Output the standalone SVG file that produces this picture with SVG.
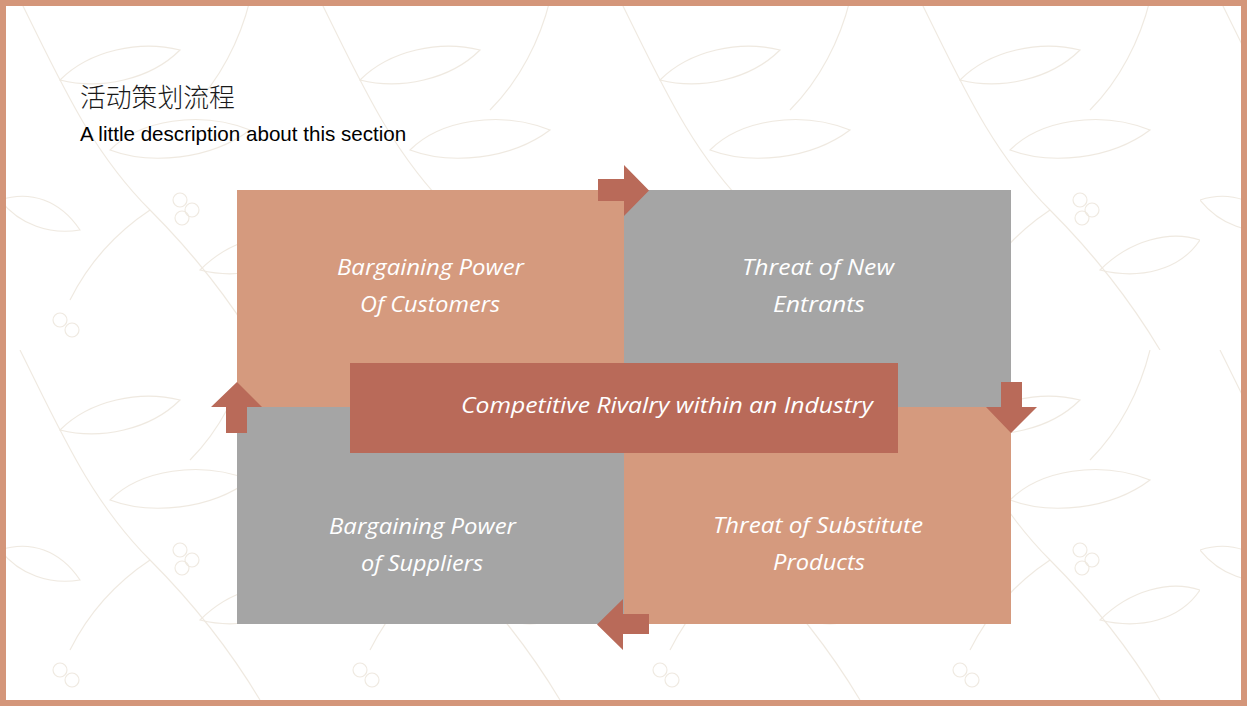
<svg xmlns="http://www.w3.org/2000/svg" width="1247" height="706" viewBox="0 0 1247 706">
<defs>
<style>
.lbl{font-family:"Open Sans","Noto Sans",sans-serif;font-style:italic;font-size:22px;fill:#ffffff;text-anchor:middle}
.arr{fill:#b96a59}
.leaf{fill:none;stroke:#efe9e0;stroke-width:1.1}
</style>
<pattern id="bg" x="0" y="0" width="300" height="350" patternUnits="userSpaceOnUse">
<rect width="300" height="350" fill="#ffffff"/>
<path class="leaf" d="M20 0 C60 80 90 150 150 210 C190 250 230 300 260 350"/>
<path class="leaf" d="M150 210 C120 230 90 260 70 300"/>
<path class="leaf" d="M60 80 C90 50 140 40 180 50 C150 80 100 90 60 80 Z"/>
<path class="leaf" d="M110 150 C140 120 200 110 250 130 C210 160 150 165 110 150 Z"/>
<path class="leaf" d="M200 270 C230 240 270 230 300 240 C280 270 240 280 200 270 Z"/>
<path class="leaf" d="M0 200 C30 190 60 200 80 230 C50 235 20 225 0 200 Z"/>
<circle class="leaf" cx="180" cy="200" r="7"/><circle class="leaf" cx="192" cy="210" r="7"/><circle class="leaf" cx="182" cy="218" r="7"/>
<circle class="leaf" cx="60" cy="320" r="7"/><circle class="leaf" cx="72" cy="330" r="7"/>
<path class="leaf" d="M250 0 C240 40 220 80 190 110"/>
</pattern>
</defs>
<rect x="0" y="0" width="1247" height="706" fill="url(#bg)"/>
<rect x="3" y="3" width="1241" height="700" fill="none" stroke="#d4967a" stroke-width="6"/>

<g id="title">
<text x="80" y="107" font-family="'Noto Sans CJK SC',sans-serif" font-size="25.8" font-weight="300" fill="#1a1a1a">活动策划流程</text>
<text x="80" y="141" font-family="'Liberation Sans',Arial,sans-serif" font-size="20.6" fill="#000000">A little description about this section</text>
</g>

<g id="customers">
<rect x="237" y="190" width="387" height="217" fill="#d59a7e"/>
<text class="lbl" x="430.5" y="275" textLength="187" lengthAdjust="spacingAndGlyphs">Bargaining Power</text>
<text class="lbl" x="430" y="312" textLength="140" lengthAdjust="spacingAndGlyphs">Of Customers</text>
</g>
<g id="entrants">
<rect x="624" y="190" width="387" height="217" fill="#a5a5a5"/>
<text class="lbl" x="818" y="275" textLength="152" lengthAdjust="spacingAndGlyphs">Threat of New</text>
<text class="lbl" x="819" y="312" textLength="92" lengthAdjust="spacingAndGlyphs">Entrants</text>
</g>
<g id="suppliers">
<rect x="237" y="407" width="387" height="217" fill="#a5a5a5"/>
<text class="lbl" x="422.5" y="534" textLength="187" lengthAdjust="spacingAndGlyphs">Bargaining Power</text>
<text class="lbl" x="422" y="571" textLength="122" lengthAdjust="spacingAndGlyphs">of Suppliers</text>
</g>
<g id="substitutes">
<rect x="624" y="407" width="387" height="217" fill="#d59a7e"/>
<text class="lbl" x="818" y="533" textLength="210" lengthAdjust="spacingAndGlyphs">Threat of Substitute</text>
<text class="lbl" x="819" y="570" textLength="92" lengthAdjust="spacingAndGlyphs">Products</text>
</g>

<g id="connectors">
<path class="arr" d="M598 179 H624 V165 L649 190.5 L624 216 V201 H598 Z"/>
<path class="arr" d="M1001 382 H1022 V407 H1037 L1011 433 L986 407 H1001 Z"/>
<path class="arr" d="M649 614 H623 V599 L597 624.5 L623 650 V634 H649 Z"/>
<path class="arr" d="M226 433 H247 V407 H262 L237 382 L211 407 H226 Z"/>
</g>

<g id="rivalry">
<rect x="350" y="363" width="548" height="90" fill="#b96a59"/>
<text class="lbl" x="667" y="413" textLength="412" lengthAdjust="spacingAndGlyphs">Competitive Rivalry within an Industry</text>
</g>
</svg>
